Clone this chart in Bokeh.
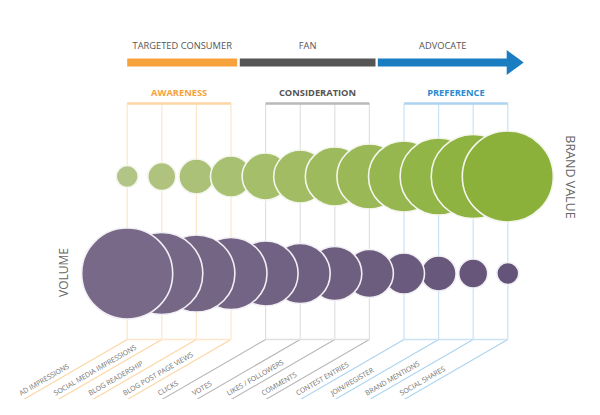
import numpy as np
from bokeh.plotting import figure
from bokeh.models import Range1d, ColumnDataSource
from bokeh.embed import file_html
from bokeh.resources import INLINE
from bokeh.core.properties import value

# ---------------- data ----------------
metrics = ["AD IMPRESSIONS", "SOCIAL MEDIA IMPRESSIONS", "BLOG READERSHIP",
           "BLOG POST PAGE VIEWS", "CLICKS", "VOTES", "LIKES / FOLLOWERS",
           "COMMENTS", "CONTEST ENTRIES", "JOIN/REGISTER", "BRAND MENTIONS",
           "SOCIAL SHARES"]
brand_value = [22, 28, 35, 41, 47, 53, 59, 65, 71, 77, 84, 91]
volume = [91, 82, 77, 72, 65, 60, 54, 48, 41, 35, 29, 22]
stages = ["AWARENESS", "CONSIDERATION", "PREFERENCE"]
stage_counts = [4, 4, 4]
personas = ["TARGETED CONSUMER", "FAN", "ADVOCATE"]

# ---------------- styles / layout ----------------
H = 415
FONT = "Open Sans"
stage_text_colors = ["#f7a23b", "#555555", "#2e8bd0"]
stage_line_colors = ["#fde6c9", "#e0e0e0", "#c9e2f4"]
stage_bracket_colors = ["#fdd5a2", "#b8b8b8", "#acd3ef"]
persona_bar_colors = ["#f7a23b", "#555555", "#1a7dc1"]

X0, DX = 126.7, 34.6
TOP_Y, BOT_Y = 103, 339
DIAG_DX, DIAG_DY = 108.3, 62.7
GREEN_Y, PURPLE_Y = 176, 273


def Y(py):
    return H - py


def mix(c1, c2, t):
    a = np.array([int(c1[i:i + 2], 16) for i in (1, 3, 5)], float)
    b = np.array([int(c2[i:i + 2], 16) for i in (1, 3, 5)], float)
    c = a + (b - a) * t
    return "#%02x%02x%02x" % tuple(int(round(v)) for v in c)


n = len(metrics)
xs = [X0 + DX * i for i in range(n)]
group_of = []
for g, cnt in enumerate(stage_counts):
    group_of += [g] * cnt

p = figure(width=584, height=399, x_range=Range1d(0, 584), y_range=Range1d(Y(399), Y(0)),
           output_backend="svg", toolbar_location=None, min_border=0,
           x_axis_type=None, y_axis_type=None, outline_line_color=None,
           background_fill_color="white", border_fill_color="white")
p.xgrid.visible = False
p.ygrid.visible = False

# vertical guide lines
p.segment(x0=xs, y0=[Y(TOP_Y)] * n, x1=xs, y1=[Y(BOT_Y)] * n,
          line_color=[stage_line_colors[g] for g in group_of], line_width=1.2)

# diagonal leader lines
p.segment(x0=xs, y0=[Y(BOT_Y)] * n, x1=[x - DIAG_DX for x in xs], y1=[Y(BOT_Y + DIAG_DY)] * n,
          line_color=[stage_bracket_colors[g] for g in group_of], line_width=1.1)

# brackets (top and bottom) and stage labels
start = 0
for g, cnt in enumerate(stage_counts):
    xa, xb = xs[start], xs[start + cnt - 1]
    p.segment(x0=[xa], y0=[Y(TOP_Y)], x1=[xb], y1=[Y(TOP_Y)],
              line_color=stage_bracket_colors[g], line_width=2.5)
    p.segment(x0=[xa], y0=[Y(BOT_Y)], x1=[xb], y1=[Y(BOT_Y)],
              line_color=stage_line_colors[g], line_width=1.3)
    p.text(x=[(xa + xb) / 2], y=[Y(92)], text=[stages[g]], text_font=value(FONT),
           text_font_style="bold", text_font_size="9.3px", text_color=stage_text_colors[g],
           text_align="center", text_baseline="middle")
    start += cnt

# persona arrow bar
bar_edges = [(X0, X0 + 110), (X0 + 112.6, X0 + 248.3), (X0 + 250.6, X0 + 380.5)]
for g, (a, b) in enumerate(bar_edges):
    p.quad(left=[a], right=[b], bottom=[Y(66)], top=[Y(58)],
           fill_color=persona_bar_colors[g], line_color=None)
    p.text(x=[(a + b) / 2], y=[Y(45)], text=[personas[g]], text_font=value(FONT),
           text_font_size="9.3px", text_color="#555555",
           text_align="center", text_baseline="middle")
hx = bar_edges[2][1] - 1
p.patch(x=[hx, hx + 17, hx], y=[Y(49.5), Y(62), Y(74.5)],
        fill_color=persona_bar_colors[2], line_color=None)

# green (brand value) circles: bigger ones on top
gcol = [mix("#b3c586", "#8bb13a", i / (n - 1)) for i in range(n)]
p.scatter(x=xs, y=[Y(GREEN_Y)] * n, size=brand_value, marker="circle",
          fill_color=gcol, line_color="#f4f6ee", line_width=1.6)

# purple (volume) circles: bigger ones on top -> draw in reverse order
pcol = [mix("#786988", "#655479", i / (n - 1)) for i in range(n)]
order = list(range(n))[::-1]
src = ColumnDataSource(dict(x=[xs[i] for i in order], y=[Y(PURPLE_Y)] * n,
                            s=[volume[i] for i in order], c=[pcol[i] for i in order]))
p.scatter(x="x", y="y", size="s", marker="circle", fill_color="c",
          line_color="#f1eff4", line_width=1.6, source=src)

# metric labels along diagonals
ang = np.pi / 6
ux, uy = np.cos(ang), np.sin(ang)          # along the line (data coords, y up)
vx, vy = -np.sin(ang), np.cos(ang)          # perpendicular, up-left
along, perp = 5.0, 2.5
lx = [x - DIAG_DX + along * ux + perp * vx for x in xs]
ly = [Y(BOT_Y + DIAG_DY) + along * uy + perp * vy for _ in xs]
p.text(x=lx, y=ly, text=metrics, angle=ang, text_font=value(FONT),
       text_font_size="7px", text_color="#6e6e6e",
       text_align="left", text_baseline="bottom")

# side titles
p.text(x=[570], y=[Y(176.5)], text=["BRAND VALUE"], angle=-np.pi / 2,
       text_font=value(FONT), text_font_size="12.5px", text_color="#666666",
       text_align="center", text_baseline="middle")
p.text(x=[63], y=[Y(272)], text=["VOLUME"], angle=np.pi / 2,
       text_font=value(FONT), text_font_size="12px", text_color="#666666",
       text_align="center", text_baseline="middle")

open("out.html", "w").write(file_html(p, INLINE))
